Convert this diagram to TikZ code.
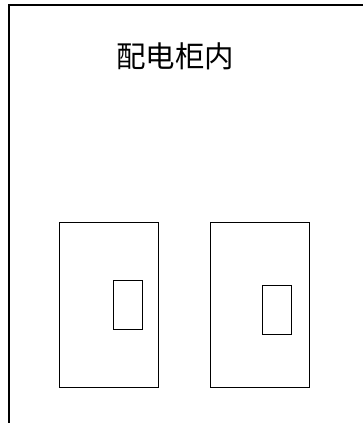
\documentclass[tikz,border=0pt]{standalone}
\usepackage{fontspec}
\newfontfamily\cjk{Noto Sans CJK SC}
\usepackage{tikz}

\begin{document}
\begin{tikzpicture}[x=1pt, y=-1pt, line join=miter,
	box/.style={line width=0.9pt},
	frame/.style={line width=1.3pt}]
					\useasboundingbox (0,0) rectangle (363,423);
					% cabinet outline
					\draw [frame] (9,423) -- (9,5) -- (363,5);
					\node (title) at (175,56) {\cjk\fontsize{29.5pt}{32pt}\selectfont 配电柜内};

					% two switches
					\draw [box] (59,222) rectangle (158.7,387.7);
					\draw [box] (113,280.7) rectangle (142,329);
					\draw [box] (210.3,222) rectangle (309.7,387.7);
					\draw [box] (262.7,285.7) rectangle (291.7,334);
				\end{tikzpicture}
\end{document}
